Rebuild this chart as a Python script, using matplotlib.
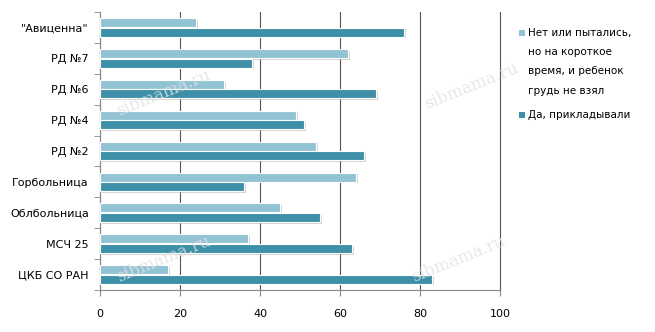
import numpy as np
import matplotlib.pyplot as plt
import matplotlib.patheffects as pe
from matplotlib.patches import Rectangle

categories = ['"Авиценна"', "РД №7", "РД №6", "РД №4", "РД №2",
              "Горбольница", "Облбольница", "МСЧ 25", "ЦКБ СО РАН"]
no_values = [24, 62, 31, 49, 54, 64, 45, 37, 17]
yes_values = [76, 38, 69, 51, 66, 36, 55, 63, 83]
legend_labels = ["Нет или пытались,\nно на короткое\nвремя, и ребенок\nгрудь не взял",
                 "Да, прикладывали"]
x_ticks = [0, 20, 40, 60, 80, 100]

c_light = "#92c3d5"
c_dark = "#3d90a7"

W, H = 655, 332
fig = plt.figure(figsize=(6.55, 3.32), dpi=100)
ax = fig.add_axes([0.1527, 0.1265, 0.6107, 0.8375])

y = np.arange(len(categories))
h = 0.29
shadow = [pe.SimplePatchShadow(offset=(1.2, -1.2), shadow_rgbFace="#aaaaaa", alpha=0.5), pe.Normal()]
b1 = ax.barh(y - h / 2 - 0.01, no_values, height=h, color=c_light, edgecolor="white",
             linewidth=0.8, label=legend_labels[0], zorder=3)
b2 = ax.barh(y + h / 2 + 0.01, yes_values, height=h, color=c_dark, edgecolor="white",
             linewidth=0.8, label=legend_labels[1], zorder=3)
for b in list(b1) + list(b2):
    b.set_path_effects(shadow)

ax.set_ylim(len(categories) - 0.5, -0.5)
ax.set_xlim(0, 100)
ax.set_xticks(x_ticks)
ax.set_xticklabels([str(t) for t in x_ticks])
ax.set_yticks(y)
ax.set_yticklabels(categories)
ax.set_yticks(np.arange(len(categories) + 1) - 0.5, minor=True)
ax.tick_params(axis="y", which="major", length=0, pad=8, labelsize=8)
ax.tick_params(axis="y", which="minor", length=4, color="#888888")
ax.tick_params(axis="x", length=4, color="#888888", labelsize=8, pad=10)

ax.grid(axis="x", color="#555555", linewidth=0.8, zorder=0)
for gl in ax.get_xgridlines():
    gl.set_clip_on(False)
for s in ["top", "right"]:
    ax.spines[s].set_visible(False)
ax.spines["left"].set_color("#888888")
ax.spines["bottom"].set_color("#888888")

# watermarks
for (wx, wy) in [(0.25, 0.72), (0.72, 0.74), (0.25, 0.22), (0.7, 0.22)]:
    fig.text(wx, wy, "sibmama.ru", fontsize=12, family="DejaVu Serif", color="#e2e2e2",
             rotation=22, ha="center", va="center", alpha=0.8, zorder=10)

# legend drawn by hand so the marker sits at the first line
for label, col, ty in [(legend_labels[0], c_light, 33), (legend_labels[1], c_dark, 115)]:
    fig.patches.append(Rectangle((519 / W, 1 - (ty + 3) / H), 6 / W, 6 / H,
                                 transform=fig.transFigure, facecolor=col, edgecolor="none"))
    fig.text(528 / W, 1 - (ty - 5) / H, label, fontsize=7.5, va="top", ha="left",
             linespacing=2.15)

fig.savefig("out.png", dpi=100)
